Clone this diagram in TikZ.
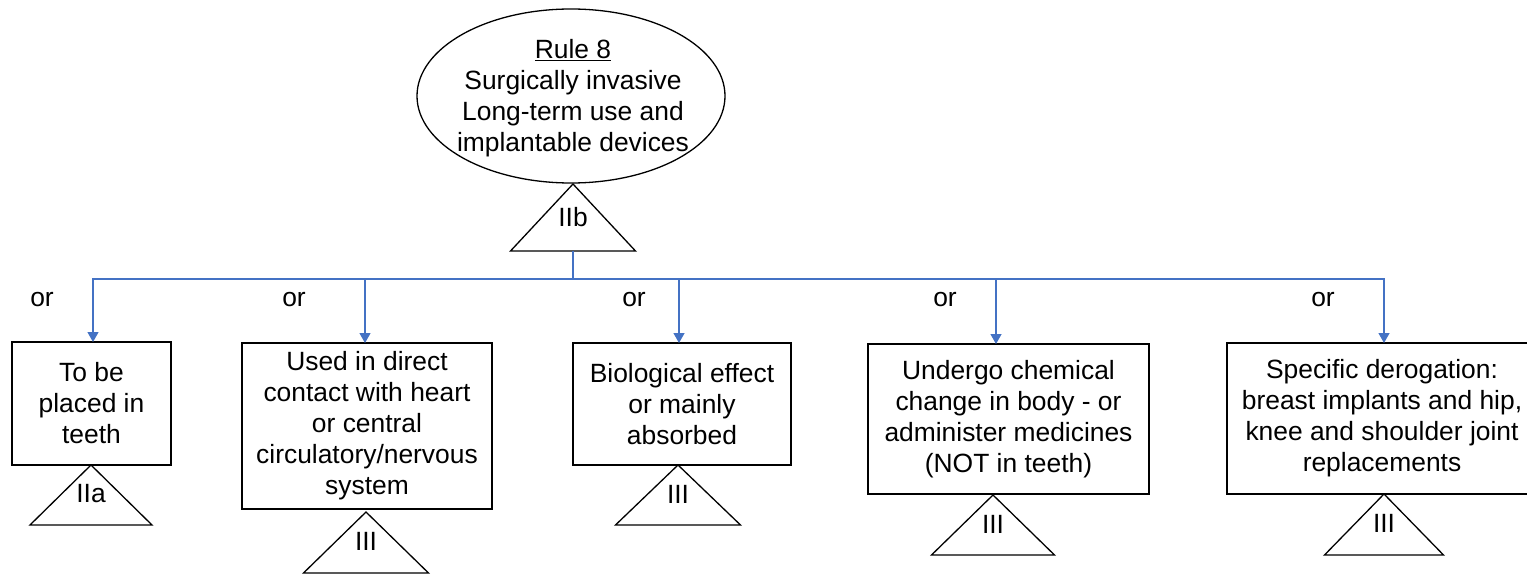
\documentclass[tikz,border=0pt]{standalone}
\usepackage{fontspec}
\setmainfont{Liberation Sans}
\usetikzlibrary{shapes.geometric,arrows.meta,calc}
\definecolor{connblue}{RGB}{68,114,196}
\begin{document}
\begin{tikzpicture}[x=1pt,y=-1pt,
  txt/.style={font=\fontsize{26.4pt}{31pt}\selectfont, align=center, inner sep=0pt},
  box/.style={draw=black, line width=1.4pt, rectangle, txt, outer sep=0pt},
  tri/.style={draw=black, line width=1.3pt, line join=miter},
  conn/.style={draw=connblue, line width=1.3pt},
  arr/.style={conn, -{Triangle[width=11pt,length=10pt]}}]
\useasboundingbox (0,0) rectangle (1527,575);
\clip (0,0) rectangle (1527,575);
% top ellipse
\node[ellipse, draw=black, line width=1.3pt, minimum width=308pt, minimum height=174pt, inner sep=0pt, outer sep=0pt] (rule) at (571,96) {};
\node[txt] (ruletxt) at (573,98) {\underline{Rule 8}\\Surgically invasive\\Long-term use and\\implantable devices};
% IIb triangle
\coordinate (t0) at (573,184);
\draw[tri] (t0) -- ++(62.5,67) -- ++(-125,0) -- cycle;
\node[txt] (l0) at ($(t0)+(0,33)$) {IIb};
% boxes
\node[box, minimum width=159pt, minimum height=123pt] (b1) at (91.5,403.5) {To be\\placed in\\teeth};
\node[box, minimum width=250pt, minimum height=166pt] (b2) at (367,426) {Used in direct\\contact with heart\\or central\\circulatory/nervous\\system};
\node[box, minimum width=218pt, minimum height=122pt] (b3) at (682,404) {Biological effect\\or mainly\\absorbed};
\node[box, minimum width=281pt, minimum height=150pt] (b4) at (1008.5,419) {Undergo chemical\\change in body - or\\administer medicines\\(NOT in teeth)};
\node[box, minimum width=310pt, minimum height=151pt] (b5) at (1382,418.5) {Specific derogation:\\breast implants and hip,\\knee and shoulder joint\\replacements};
% class triangles
\coordinate (t1) at (91,465);
\coordinate (t2) at (366,512);
\coordinate (t3) at (678,465);
\coordinate (t4) at (993,495);
\coordinate (t5) at (1384,494);
\draw[tri] (t1) -- ++(61,60) -- ++(-122,0) -- cycle;
\draw[tri] (t2) -- ++(62.5,61) -- ++(-125,0) -- cycle;
\draw[tri] (t3) -- ++(62.5,60) -- ++(-125,0) -- cycle;
\draw[tri] (t4) -- ++(61.5,60) -- ++(-123,0) -- cycle;
\draw[tri] (t5) -- ++(59.5,61) -- ++(-119,0) -- cycle;
\node[txt] (l1) at ($(t1)+(0,29)$) {IIa};
\node[txt] (l2) at ($(t2)+(0,29)$) {III};
\node[txt] (l3) at ($(t3)+(0,29)$) {III};
\node[txt] (l4) at ($(t4)+(0,29)$) {III};
\node[txt] (l5) at ($(t5)+(0,29)$) {III};
% connectors
\coordinate (base0) at (573,251);
\coordinate (j) at (573,279);
\coordinate (a1) at (93,342);
\coordinate (a2) at (365,343);
\coordinate (a3) at (679,343);
\coordinate (a4) at (996,344);
\coordinate (a5) at (1384,343);
\draw[conn] (base0) -- (j);
\draw[arr] (j) -| (a1);
\draw[arr] (j) -| (a2);
\draw[arr] (j) -| (a3);
\draw[arr] (j) -| (a4);
\draw[arr] (j) -| (a5);
% or labels
\node[txt] (or1) at (42,300) {or};
\node[txt] (or2) at (294,300) {or};
\node[txt] (or3) at (634,300) {or};
\node[txt] (or4) at (945,300) {or};
\node[txt] (or5) at (1323,300) {or};
\end{tikzpicture}
\end{document}
